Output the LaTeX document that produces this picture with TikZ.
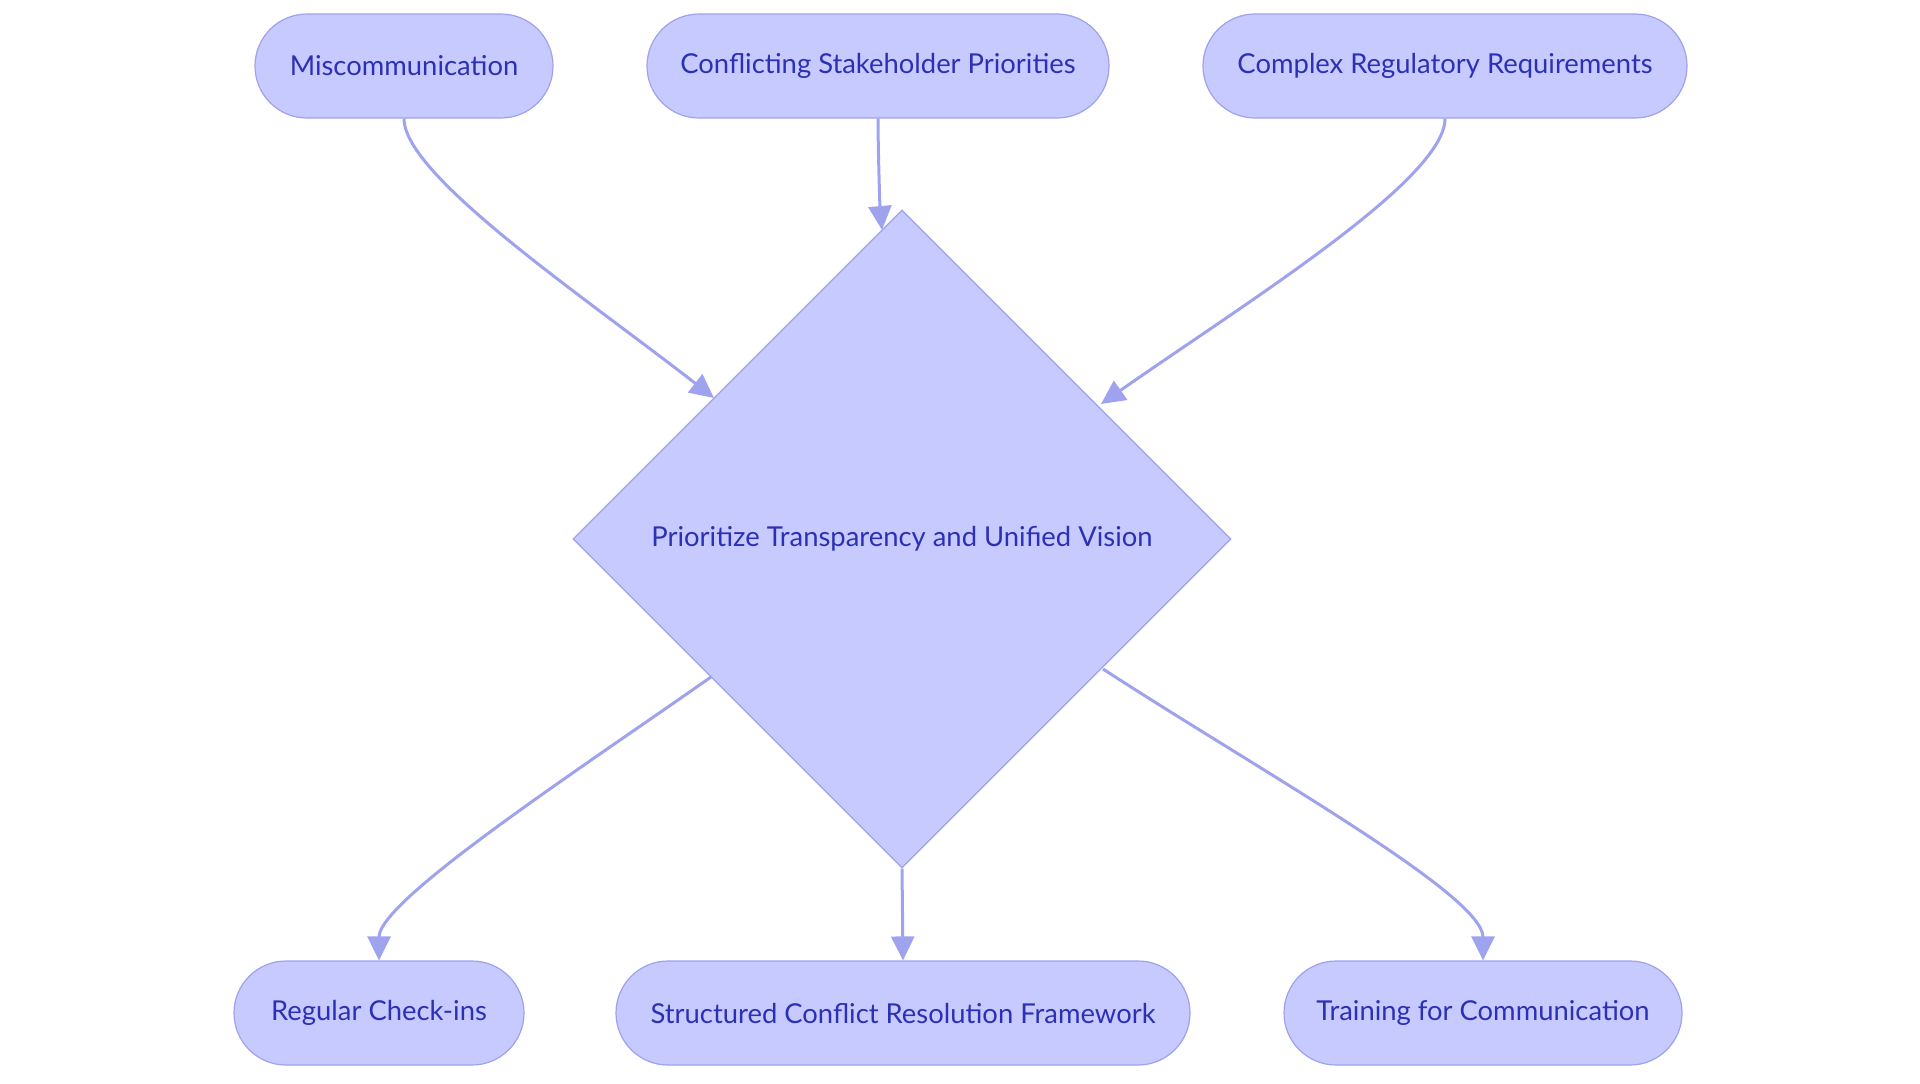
\documentclass[tikz,border=0pt]{standalone}
\usepackage{fontspec}
\setmainfont{Lato}
\usepackage{tikz}
\usetikzlibrary{shapes.geometric, arrows.meta, positioning}

\definecolor{nodefill}{HTML}{C7CAFF}
\definecolor{nodeline}{HTML}{9EA2EC}
\definecolor{nodetext}{HTML}{2C30B4}
\definecolor{edgeline}{HTML}{9FA3EE}

\begin{document}
\begin{tikzpicture}[x=0.5pt, y=-0.5pt]
            % Block styles
            \tikzstyle{pill} = [rectangle, draw=nodeline, fill=nodefill, text=nodetext, line width=0.6pt, rounded corners=26pt, minimum height=52pt, inner sep=0pt, font=\fontsize{13.7}{16}\selectfont]
            \tikzstyle{decision} = [diamond, draw=nodeline, fill=nodefill, text=nodetext, line width=0.6pt, minimum width=329pt, minimum height=329pt, inner sep=0pt, font=\fontsize{13.7}{16}\selectfont]
            \tikzstyle{link} = [draw=edgeline, line width=1.5pt, -{Triangle[length=12pt, width=11.5pt]}]
            \useasboundingbox (0,0) rectangle (1920,1083);
            % Causes
            \node[pill, minimum width=149pt] (miscomm) at (404,66) {Miscommunication};
            \node[pill, minimum width=231pt] (priorities) at (878,66) {Conflicting Stakeholder Priorities};
            \node[pill, minimum width=242pt] (regulatory) at (1445,66) {Complex Regulatory Requirements};
            % Decision
            \node[decision] (vision) at (902,539) {Prioritize Transparency and Unified Vision};
            % Measures
            \node[pill, minimum width=145pt] (checkins) at (379,1013) {Regular Check-ins};
            \node[pill, minimum width=287pt] (framework) at (903,1013) {Structured Conflict Resolution Framework};
            \node[pill, minimum width=199pt] (training) at (1483,1013) {Training for Communication};
            % Connections
            \draw[link] (miscomm.south) to[out=-90, in=142, out looseness=0.35, in looseness=1] (714,398);
            \draw[link] (priorities.south) to[out=-90, in=95, looseness=0.6] (882,230);
            \draw[link] (regulatory.south) to[out=-90, in=35, out looseness=0.35, in looseness=1] (1101,404);
            \draw[link] (711,677) to[out=-145, in=90, out looseness=1, in looseness=0.35] (checkins.north);
            \draw[link] (vision.south) -- (framework.north);
            \draw[link] (1103,669) to[out=-33, in=90, out looseness=1, in looseness=0.35] (training.north);
        \end{tikzpicture}
\end{document}
